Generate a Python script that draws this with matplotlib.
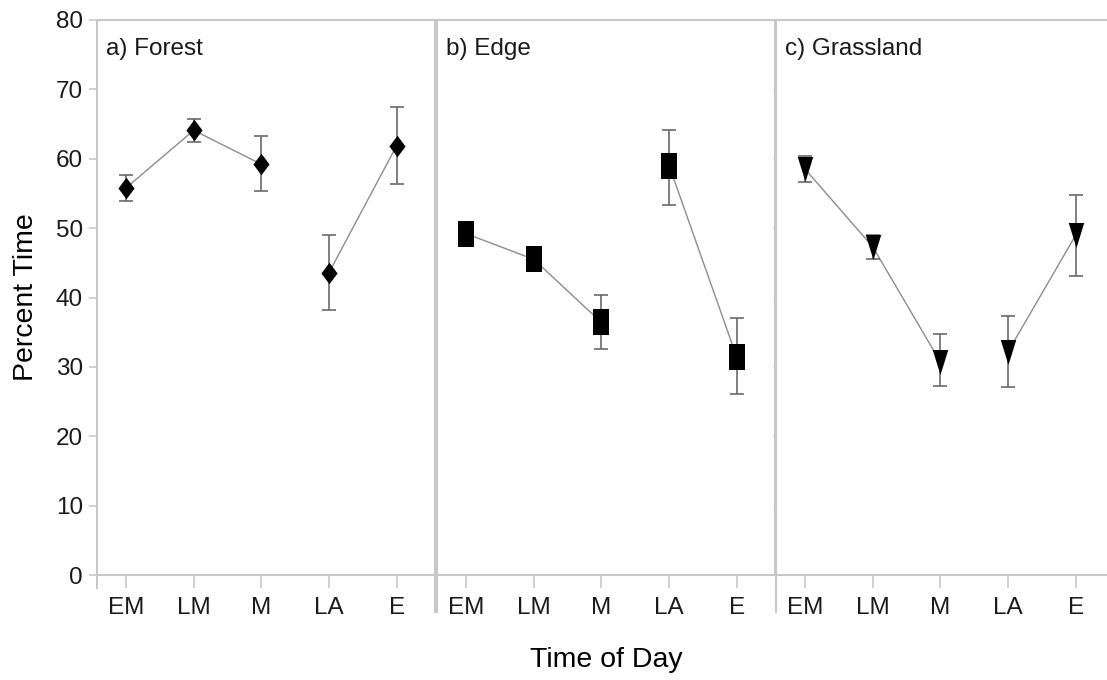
import matplotlib

matplotlib.use("Agg")
import matplotlib.pyplot as plt

# time-of-day categories
periods = ["EM", "LM", "M", "LA", "E"]

# panel a) Forest
forest_mean = [55.8, 64.1, 59.2, 43.6, 61.9]
forest_lo = [53.9, 62.4, 55.4, 38.2, 56.3]
forest_hi = [57.6, 65.7, 63.3, 49.0, 67.5]

# panel b) Edge
edge_mean = [49.2, 45.5, 36.4, 59.0, 31.4]
edge_lo = [48.0, 44.2, 32.6, 53.3, 26.1]
edge_hi = [50.4, 46.8, 40.3, 64.1, 37.1]

# panel c) Grassland
grass_mean = [58.5, 47.3, 30.7, 32.2, 49.0]
grass_lo = [56.6, 45.6, 27.2, 27.1, 43.1]
grass_hi = [60.4, 49.0, 34.7, 37.4, 54.8]

yticks = [0, 10, 20, 30, 40, 50, 60, 70, 80]

DIAMOND = [(0, 1), (0.75, 0), (0, -1), (-0.75, 0), (0, 1)]
RECT = [(-0.6, -1), (0.6, -1), (0.6, 1), (-0.6, 1), (-0.6, -1)]
TRI_DOWN = [(-0.62, 1), (0.62, 1), (0, -1), (-0.62, 1)]

SPINE = "#c8c8c8"
TEXT = "#1a1a1a"

plt.rcParams.update(
    {
        "font.family": ["Liberation Sans", "DejaVu Sans"],
        "text.color": TEXT,
        "xtick.color": SPINE,
        "ytick.color": SPINE,
        "xtick.labelcolor": TEXT,
        "ytick.labelcolor": TEXT,
    }
)

panels = [
    ("a) Forest", forest_mean, forest_lo, forest_hi, DIAMOND, 15.5, 0.0876),
    ("b) Edge", edge_mean, edge_lo, edge_hi, RECT, 18.5, 0.3948),
    ("c) Grassland", grass_mean, grass_lo, grass_hi, TRI_DOWN, 18.0, 0.7010),
]

fig = plt.figure(figsize=(11.07, 6.80), dpi=100)
fig.patch.set_facecolor("white")

x = list(range(len(periods)))
for idx, (title, mean, lo, hi, marker, ms, left) in enumerate(panels):
    ax = fig.add_axes([left, 0.1544, 0.3050, 0.8162])
    err = [[m - l for m, l in zip(mean, lo)], [h - m for m, h in zip(mean, hi)]]

    # segments: morning (EM-LM-M) and afternoon/evening (LA-E)
    ax.plot(x[:3], mean[:3], color="#8c8c8c", lw=1.0, zorder=2)
    ax.plot(x[3:], mean[3:], color="#8c8c8c", lw=1.0, zorder=2)
    ax.errorbar(
        x, mean, yerr=err, fmt="none", ecolor="#6a6a6a", elinewidth=1.2,
        capsize=5.3, capthick=1.2, zorder=3,
    )
    ax.plot(x, mean, linestyle="none", marker=marker, markersize=ms,
            color="black", markeredgewidth=0, zorder=4)

    ax.set_xlim(-0.43, 4.56)
    ax.set_ylim(0, 80)
    ax.set_xticks(x)
    ax.set_xticklabels(periods, fontsize=17.5)
    ax.set_yticks(yticks)
    ax.tick_params(axis="x", direction="out", length=9, width=1.2, pad=7)

    for side in ["left", "right", "top", "bottom"]:
        ax.spines[side].set_color(SPINE)
        ax.spines[side].set_linewidth(1.5)

    if idx == 0:
        ax.set_yticklabels([str(v) for v in yticks], fontsize=17.5)
        ax.tick_params(axis="y", direction="out", length=6, width=1.2, pad=4)
        ax.set_ylabel("Percent Time", fontsize=20.5, labelpad=12)
        ax.spines["left"].set_bounds(-1.9, 80)
        ax.spines["right"].set_bounds(-5.4, 80)
    else:
        ax.tick_params(axis="y", direction="out", length=2, width=1.0, labelleft=False)
        ax.spines["left"].set_bounds(-5.4, 80)
        ax.spines["right"].set_visible(idx == 1)
        if idx == 1:
            ax.set_xlabel("Time of Day", fontsize=20.5, labelpad=20)

    ax.text(0.028, 0.968, title, transform=ax.transAxes, fontsize=17.5,
            ha="left", va="top")

fig.savefig("out.png", dpi=100, facecolor="white")
plt.close(fig)
